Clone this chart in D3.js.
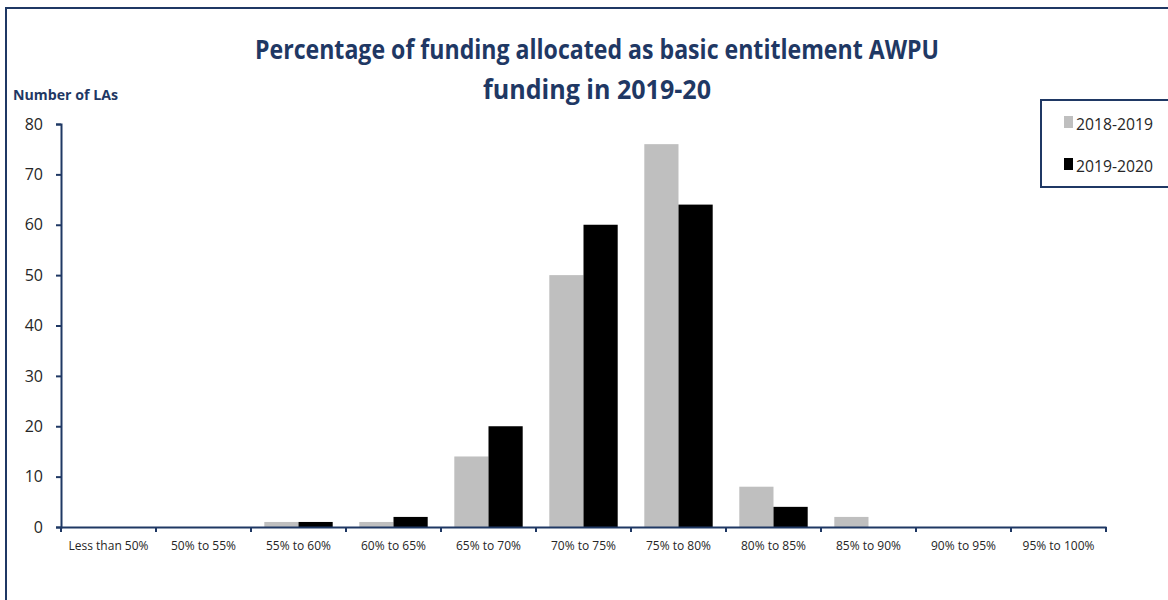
<!DOCTYPE html>
<html><head><meta charset="utf-8">
<script src="https://cdn.jsdelivr.net/npm/d3@7"></script>
<style>body{margin:0;background:#fff;}svg{display:block;}</style>
</head><body>
<script>
const categories = ["Less than 50%","50% to 55%","55% to 60%","60% to 65%","65% to 70%","70% to 75%","75% to 80%","80% to 85%","85% to 90%","90% to 95%","95% to 100%"];
const seriesNames = ["2018-2019","2019-2020"];
const values2018 = [0,0,1,1,14,50,76,8,2,0,0];
const values2019 = [0,0,1,2,20,60,64,4,0,0,0];
const yTicks = [0,10,20,30,40,50,60,70,80];
const titleLines = ["Percentage of funding allocated as basic entitlement AWPU","funding in 2019-20"];

const W=1168,H=600, navy="#1F3864", colors=["#BFBFBF","#000000"];
const svg=d3.select("body").append("svg").attr("width",W).attr("height",H);
svg.append("rect").attr("x",6).attr("y",8).attr("width",1200).attr("height",700)
  .attr("fill","none").attr("stroke",navy).attr("stroke-width",2);

const m={l:61,r:1106,t:124,b:527};
const x=d3.scaleBand().domain(categories).range([m.l,m.r]).paddingInner(0.28).paddingOuter(0.14);
const xs=d3.scaleBand().domain(seriesNames).range([0,x.bandwidth()]);
const y=d3.scaleLinear().domain([0,80]).range([m.b,m.t]);

const data=categories.map((c,i)=>({c,v:[values2018[i],values2019[i]]}));
const g=svg.append("g");
data.forEach(d=>{
  seriesNames.forEach((s,j)=>{
    g.append("rect").attr("x",x(d.c)+xs(s)).attr("y",y(d.v[j]))
     .attr("width",xs.bandwidth()).attr("height",y(0)-y(d.v[j])).attr("fill",colors[j]);
  });
});

// y axis
const ya=svg.append("g").attr("transform",`translate(${m.l},0)`)
  .call(d3.axisLeft(y).tickValues(yTicks).tickSize(5).tickPadding(13));
ya.select(".domain").attr("stroke",navy).attr("stroke-width",2);
ya.selectAll(".tick line").attr("stroke",navy).attr("stroke-width",2);
ya.selectAll(".tick text").attr("font-family","Open Sans, sans-serif").attr("font-size",16).attr("fill","#262626");

// x axis
const xa=svg.append("g").attr("transform",`translate(0,${m.b})`)
  .call(d3.axisBottom(x).tickSize(0).tickPadding(14));
xa.select(".domain").attr("stroke",navy).attr("stroke-width",2);
xa.selectAll(".tick text").attr("font-family","Open Sans, sans-serif").attr("font-size",12).attr("fill","#262626")
  .attr("transform","scale(0.92,1)").attr("x",function(){return 0;});
xa.selectAll(".tick text").attr("transform",null);
const step=x.step();
const bounds=d3.range(categories.length+1).map(i=>m.l+i*step);
xa.selectAll(".bt").data(bounds).join("line").attr("x1",d=>d).attr("x2",d=>d).attr("y1",0).attr("y2",5)
  .attr("stroke",navy).attr("stroke-width",2);

// title
svg.append("text").attr("x",597).attr("y",59).attr("text-anchor","middle")
  .attr("font-family","Open Sans, sans-serif").attr("font-weight","bold").attr("font-size",26).attr("fill",navy)
  .attr("textLength",684).attr("lengthAdjust","spacingAndGlyphs").text(titleLines[0]);
svg.append("text").attr("x",597).attr("y",99).attr("text-anchor","middle")
  .attr("font-family","Open Sans, sans-serif").attr("font-weight","bold").attr("font-size",26).attr("fill",navy)
  .attr("textLength",228).attr("lengthAdjust","spacingAndGlyphs").text(titleLines[1]);
svg.append("text").attr("x",13).attr("y",100)
  .attr("font-family","Open Sans, sans-serif").attr("font-weight","bold").attr("font-size",15).attr("fill",navy)
  .attr("textLength",105).attr("lengthAdjust","spacingAndGlyphs").text("Number of LAs");

// legend
svg.append("rect").attr("x",1041).attr("y",100).attr("width",200).attr("height",87)
  .attr("fill","#fff").attr("stroke",navy).attr("stroke-width",2);
seriesNames.forEach((s,j)=>{
  svg.append("rect").attr("x",1064).attr("y",116+j*42).attr("width",9).attr("height",12).attr("fill",colors[j]);
  svg.append("text").attr("x",1076).attr("y",130+j*42).attr("font-family","Open Sans, sans-serif")
    .attr("font-size",17).attr("fill","#262626").attr("textLength",77).attr("lengthAdjust","spacingAndGlyphs").text(s);
});
</script>
</body></html>
